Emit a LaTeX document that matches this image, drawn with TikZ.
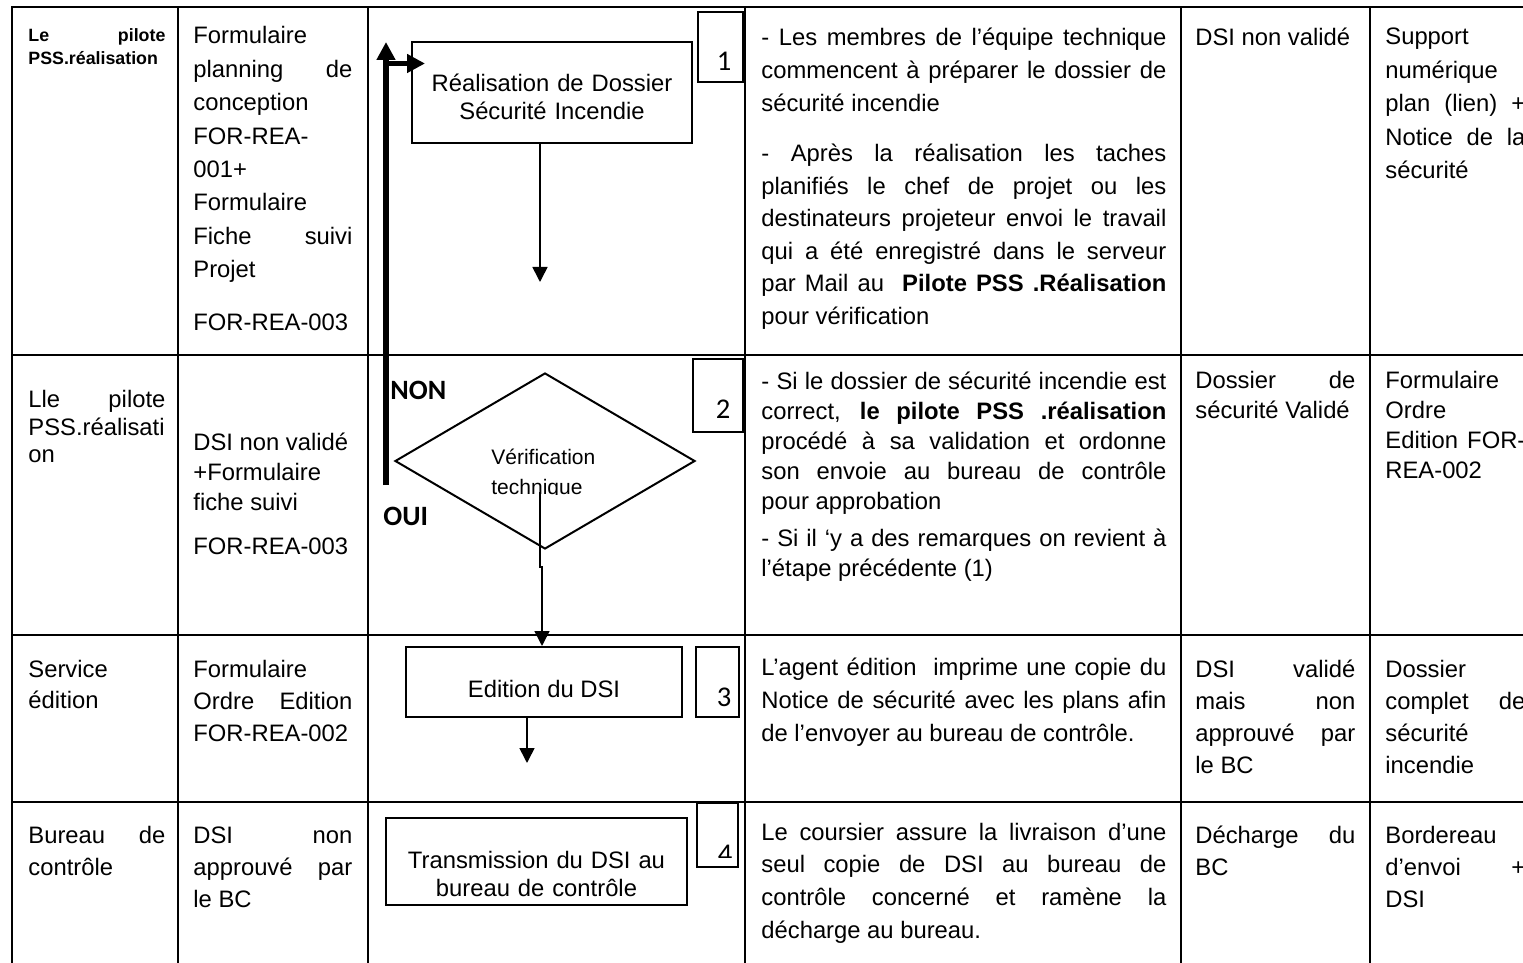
\documentclass[tikz,border=0pt]{standalone}
\usepackage{fontspec}
\setmainfont{Liberation Sans}[Ligatures={TeX,NoCommon}]
\newfontfamily\digitfont{Carlito}
\usetikzlibrary{arrows.meta,shapes.geometric}
\hyphenpenalty=10000
\exhyphenpenalty=10000
\tolerance=9999
\emergencystretch=2em
\hbadness=10000

\tikzset{
  grid line/.style={line width=1.3pt, line cap=rect},
  stepbox/.style={draw, line width=1pt, inner sep=0pt, rectangle},
  numbox/.style={draw, line width=0.9pt, inner sep=0pt, rectangle},
  numtext/.style={anchor=base, inner sep=0pt, font=\digitfont\fontsize{14.3pt}{16pt}\selectfont},
  flowtext/.style={anchor=base, inner sep=0pt, align=center, font=\fontsize{11.9pt}{14pt}\selectfont},
  cell/.style 2 args={anchor=base west, inner sep=0pt, text width=#1, align=justify,
                      font=\fontsize{11.9pt}{#2}\selectfont},
  flow/.style={line width=0.8pt, -{Triangle[width=7.5pt,length=7.5pt]}},
  loop/.style={line width=3pt, -{Triangle[width=9pt,length=9pt]}},
  answer/.style={anchor=base west, inner sep=0pt, font=\digitfont\bfseries\fontsize{14pt}{16pt}\selectfont},
}

\begin{document}
\begin{tikzpicture}[x=0.5pt, y=-0.5pt]
\useasboundingbox (0,0) rectangle (1523,963);
\fill[white] (0,0) rectangle (1523,963);
\clip (0,0) rectangle (1523,963);

% table grid
\foreach \yy in {7,355,635,802}
  \draw[grid line] (12,\yy) -- (1560,\yy);
\foreach \xx in {12,178,368,745,1181,1370}
  \draw[grid line] (\xx,7) -- (\xx,1000);

% column 1: actors
\node[cell={68.5pt}{11.5pt}, font={\fontsize{8.9pt}{11.5pt}\selectfont\bfseries}] (c1r1) at (28,42)
  {Le pilote\linebreak PSS.réalisation};
\node[cell={68.5pt}{13.75pt}] (c1r2) at (28,408)
  {Lle pilote\linebreak PSS.réalisati\\on};
\node[cell={68.5pt}{15.5pt}] (c1r3) at (28,677) {Service\\édition};
\node[cell={68.5pt}{16pt}] (c1r4) at (28,843) {Bureau de\linebreak contrôle};

% column 2: input documents
\node[cell={79.5pt}{16.7pt}] (c2r1a) at (193,44)
  {Formulaire\\planning de\linebreak conception\\FOR-REA-\\001+\\Formulaire\\Fiche suivi\linebreak Projet};
\node[cell={79.5pt}{16.7pt}] (c2r1b) at (193,330) {FOR-REA-003};
\node[cell={79.5pt}{15pt}] (c2r2a) at (193,450)
  {DSI non validé\\+Formulaire\\fiche suivi};
\node[cell={79.5pt}{15pt}] (c2r2b) at (193,554) {FOR-REA-003};
\node[cell={79.5pt}{16pt}] (c2r3) at (193,677)
  {Formulaire\\Ordre Edition\linebreak FOR-REA-002};
\node[cell={79.5pt}{16pt}] (c2r4) at (193,843)
  {DSI non\linebreak approuvé par\linebreak le BC};

% flowchart: step boxes
\node[stepbox, minimum width=140pt, minimum height=50.5pt] (box1) at (552,92.5) {};
\node[flowtext, text width=140pt] (box1txt) at (552,92)
  {Réalisation de Dossier\\Sécurité Incendie};

\node[diamond, draw, line width=1pt, inner sep=0pt,
      minimum width=150pt, minimum height=88pt] (dia) at (545,461) {};
\begin{scope}
  \clip (380,440) rectangle (700,494);
  \node[anchor=base west, inner sep=0pt, text width=60pt,
        font=\fontsize{10.5pt}{15pt}\selectfont] (diatxt) at (491,464)
    {Vérification\\technique};
\end{scope}

\node[stepbox, minimum width=138pt, minimum height=35pt] (box3) at (544,682) {};
\node[flowtext] (box3txt) at (544,697) {Edition du DSI};

\node[stepbox, minimum width=150.5pt, minimum height=43.5pt] (box4) at (536.5,861.5) {};
\begin{scope}
  \clip (386,818) rectangle (687,896);
  \node[flowtext, text width=150pt] (box4txt) at (536.5,868)
    {Transmission du DSI au\\bureau de contrôle};
\end{scope}

% step numbers
\node[numbox, minimum width=22.5pt, minimum height=35pt] (nb1) at (720.5,47) {};
\node[numtext] (n1) at (724,71) {1};
\node[numbox, minimum width=25pt, minimum height=36.5pt] (nb2) at (718,395.5) {};
\node[numtext] (n2) at (723,418) {2};
\node[numbox, minimum width=21.5pt, minimum height=35pt] (nb3) at (717.5,682) {};
\node[numtext] (n3) at (724,706) {3};
\node[numbox, minimum width=20.5pt, minimum height=32pt] (nb4) at (717.5,835) {};
\begin{scope}
  \clip (697,803) rectangle (738,857);
  \node[numtext] (n4) at (725,863) {4};
\end{scope}

% connectors
\coordinate (a1end) at (540,282);
\draw[flow] (box1.south -| a1end) -- (a1end);

\coordinate (d2start) at (540,492);
\coordinate (d2jog) at (542,567);
\draw[flow] (d2start) -- (d2start |- d2jog) -- (d2jog) -- (d2jog |- box3.north);

\coordinate (a3end) at (527,763);
\draw[flow] (box3.south -| a3end) -- (a3end);

% return loop (NON) back to step 1
\coordinate (loopstart) at (386,485);
\coordinate (looptop) at (386,42);
\coordinate (loopcorner) at (386,63.5);
\coordinate (loopend) at (425,63.5);
\draw[loop] (loopstart) -- (looptop);
\draw[loop, line width=2.5pt] (loopcorner) -- (loopend);

\node[answer] (non) at (390,400) {NON};
\node[answer] (oui) at (383,525) {OUI};

% column 4: description
\node[cell={202.5pt}{16.3pt}] (d1a) at (761,46)
  {- Les membres de l’équipe technique\linebreak commencent à préparer le dossier de\linebreak sécurité incendie};
\node[cell={202.5pt}{16.25pt}] (d1b) at (761,162)
  {- Après la réalisation les taches\linebreak planifiés le chef de projet ou les\linebreak destinateurs projeteur envoi le travail\linebreak qui a été enregistré dans le serveur\linebreak par Mail au~ \textbf{Pilote PSS .Réalisation}\linebreak pour vérification};
\node[cell={202.5pt}{15pt}] (d2a) at (761,389)
  {- Si le dossier de sécurité incendie est\linebreak correct, \textbf{le pilote PSS .réalisation}\linebreak procédé à sa validation et ordonne\linebreak son envoie au bureau de contrôle\linebreak pour approbation};
\node[cell={202.5pt}{15pt}] (d2b) at (761,546)
  {- Si il ‘y a des remarques on revient à\linebreak l’étape précédente (1)};
\node[cell={202.5pt}{16.5pt}] (d3) at (761,675)
  {L’agent édition~ imprime une copie du\linebreak Notice de sécurité avec les plans afin\linebreak de l’envoyer au bureau de contrôle.};
\node[cell={202.5pt}{16.35pt}] (d4) at (761,840)
  {Le coursier assure la livraison d’une\linebreak seul copie de DSI au bureau de\linebreak contrôle concerné et ramène la\linebreak décharge au bureau.};

% column 5: output
\node[cell={80pt}{16.7pt}] (c5r1) at (1195,46) {DSI non validé};
\node[cell={80pt}{15pt}] (c5r2) at (1195,388) {Dossier de\linebreak sécurité Validé};
\node[cell={80pt}{16pt}] (c5r3) at (1195,677)
  {DSI validé\linebreak mais non\linebreak approuvé par\linebreak le BC};
\node[cell={80pt}{16pt}] (c5r4) at (1195,843) {Décharge du\linebreak BC};

% column 6: records
\node[cell={70pt}{16.7pt}] (c6r1) at (1385,45)
  {Support\\numérique\\plan (lien) +\linebreak Notice de la\linebreak sécurité};
\node[cell={70pt}{15pt}] (c6r2) at (1385,388)
  {Formulaire\\Ordre\\Edition FOR-\linebreak REA-002};
\node[cell={70pt}{16pt}] (c6r3) at (1385,677)
  {Dossier\\complet de\linebreak sécurité\\incendie};
\node[cell={70pt}{16pt}] (c6r4) at (1385,843)
  {Bordereau\\d’envoi +\linebreak DSI};
\end{tikzpicture}
\end{document}
